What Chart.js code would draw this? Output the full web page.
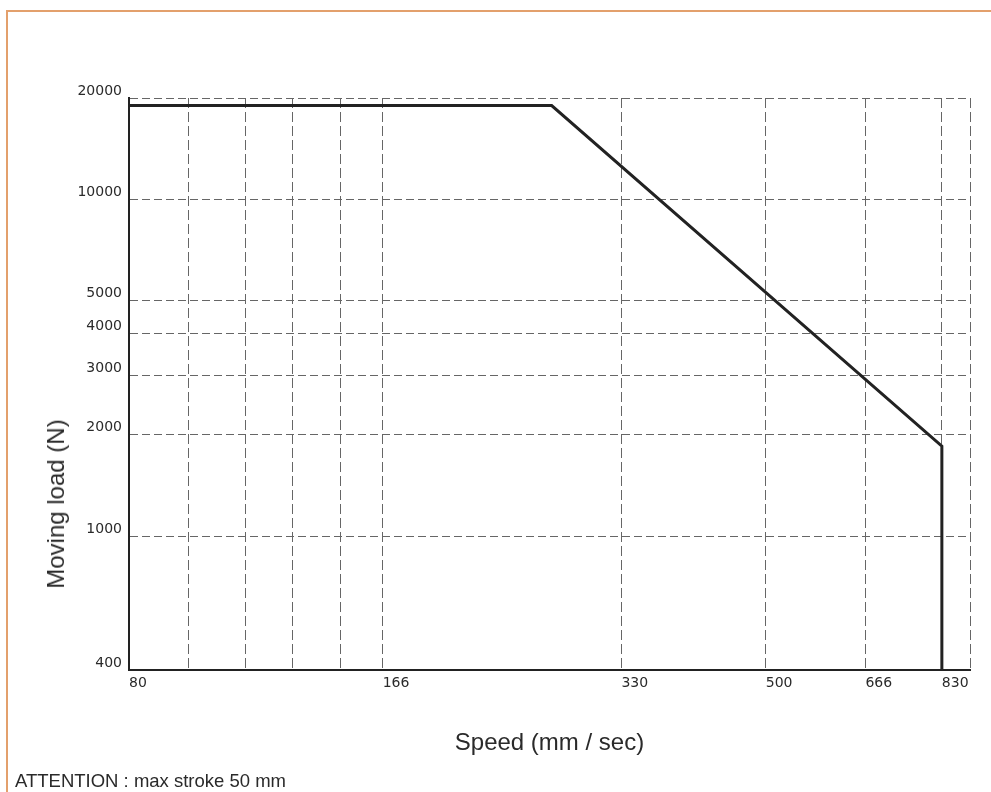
<!DOCTYPE html>
<html>
<head>
<meta charset="utf-8">
<title>Moving load vs speed</title>
<script src="https://cdn.jsdelivr.net/npm/chart.js@4.4.1/dist/chart.umd.min.js"></script>
<style>
    body { margin: 0; background: #fff; overflow: hidden; }
    .frame {
        position: absolute; left: 6px; top: 10px; width: 985px; height: 782px;
        border-top: 2px solid #e3a06c; border-left: 2px solid #e3a06c; box-sizing: border-box;
    }
    .wrap { position: absolute; left: 0; top: 0; width: 991px; height: 792px; }
    .ytitle {
        position: absolute; left: 56px; top: 504px; transform: translate(-50%, -50%) rotate(-90deg);
        font: 24px 'Liberation Sans', Arial, sans-serif; color: #2a2a2a; white-space: nowrap;
    }
    .note {
        position: absolute; left: 15px; top: 771px;
        font: 18.5px/20px 'Liberation Sans', Arial, sans-serif; color: #2a2a2a; white-space: nowrap;
    }
</style>
</head>
<body>
<div class="frame"></div>
<div class="wrap"><canvas id="loadChart"></canvas></div>
<div class="ytitle">Moving load (N)</div>
<div class="note">ATTENTION : max stroke 50 mm</div>
<script>
// Speed axis (mm/sec)
const speedLabels = [80, 166, 330, 500, 666, 830];
const speedGrid = [95, 112, 128, 147];
const speedMin = 80;
const speedMax = 900;

// Load axis (N)
const loadLabels = [400, 1000, 2000, 3000, 4000, 5000, 10000, 20000];

// Load curve
const speed = [80, 270, 830, 830];
const load = [19000, 19000, 1850, 400];

const tickFont = { family: 'DejaVu Sans', size: 14 };
const titleFont = { family: 'Liberation Sans', size: 24 };

const ctx = document.getElementById('loadChart').getContext('2d');
new Chart(ctx, {
    type: 'line',
    data: {
        datasets: [{
            data: speed.map((s, i) => ({ x: s, y: load[i] })),
            borderColor: '#222',
            borderWidth: 3,
            pointRadius: 0,
            fill: false,
            tension: 0
        }]
    },
    options: {
        animation: false,
        responsive: true,
        maintainAspectRatio: false,
        layout: { padding: { top: 98, right: 21, bottom: 0, left: 0 } },
        plugins: {
            legend: { display: false },
            tooltip: { enabled: false }
        },
        scales: {
            x: {
                type: 'logarithmic',
                min: speedMin,
                max: speedMax,
                afterBuildTicks: axis => {
                    axis.ticks = [...speedLabels, ...speedGrid, speedMax]
                        .sort((a, b) => a - b)
                        .map(v => ({ value: v }));
                },
                afterFit: axis => { axis.height = 122; },
                ticks: {
                    autoSkip: false,
                    maxRotation: 0,
                    align: 'start',
                    padding: 5,
                    color: '#2a2a2a',
                    font: tickFont,
                    callback: v => speedLabels.includes(v) ? String(v) : ''
                },
                grid: { color: '#666', lineWidth: 1, drawTicks: false },
                border: { display: true, color: '#222', width: 2, dash: [10, 4] }
                ,
                title: {
                    display: true,
                    text: 'Speed (mm / sec)',
                    color: '#2a2a2a',
                    font: titleFont,
                    padding: { top: 0, bottom: 34 }
                }
            },
            y: {
                type: 'logarithmic',
                min: loadLabels[0],
                max: loadLabels[loadLabels.length - 1],
                afterBuildTicks: axis => {
                    axis.ticks = loadLabels.map(v => ({ value: v }));
                },
                afterFit: axis => { axis.width = 129; },
                ticks: {
                    autoSkip: false,
                    align: 'end',
                    padding: 7,
                    color: '#2a2a2a',
                    font: tickFont,
                    callback: v => String(v)
                },
                grid: { color: '#666', lineWidth: 1, drawTicks: false },
                border: { display: true, color: '#222', width: 2, dash: [8, 4] }
            }
        }
    }
});
</script>
</body>
</html>
